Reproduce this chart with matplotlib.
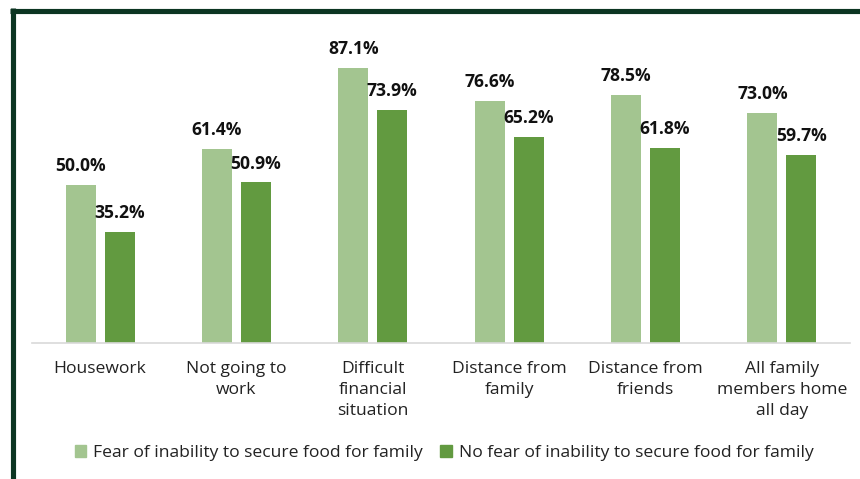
import matplotlib.pyplot as plt
from matplotlib.lines import Line2D
from matplotlib.patches import Patch
import numpy as np

plt.rcParams['font.family'] = ['Open Sans', 'DejaVu Sans']

categories = ['Housework', 'Not going to\nwork', 'Difficult\nfinancial\nsituation',
              'Distance from\nfamily', 'Distance from\nfriends', 'All family\nmembers home\nall day']
fear = [50.0, 61.4, 87.1, 76.6, 78.5, 73.0]
no_fear = [35.2, 50.9, 73.9, 65.2, 61.8, 59.7]
series_names = ['Fear of inability to secure food for family',
                'No fear of inability to secure food for family']

light = '#a3c590'
dark = '#629a40'
border = '#0c3522'

fig = plt.figure(figsize=(8.6, 4.79), dpi=100)
ax = fig.add_axes([32/860, 1-343/479, 818/860, 315.7/479])

x = np.arange(len(categories))
w = 0.22
off = 0.143
b1 = ax.bar(x - off, fear, w, color=light)
b2 = ax.bar(x + off, no_fear, w, color=dark)

for bars in (b1, b2):
    for b in bars:
        ax.annotate(f'{b.get_height():.1f}%', (b.get_x() + b.get_width()/2, b.get_height()),
                    xytext=(0, 7), textcoords='offset points', ha='center', va='bottom',
                    fontsize=12.6, fontweight='bold', color='#111111')

ax.set_xlim(-0.5, 5.5)
ax.set_ylim(0, 100)
ax.set_yticks([])
ax.set_xticks(x)
ax.set_xticklabels(categories, fontsize=12.6, color='#222222', linespacing=1.42)
ax.tick_params(axis='x', length=0, pad=13)
for s in ['top', 'right', 'left']:
    ax.spines[s].set_visible(False)
ax.spines['bottom'].set_color('#d9d9d9')
ax.spines['bottom'].set_linewidth(1.2)

handles = [Patch(color=light), Patch(color=dark)]
fig.legend(handles, series_names, loc='center', bbox_to_anchor=(444/860, 1-453/479),
           ncol=2, frameon=False, fontsize=12.6, handlelength=0.65, handleheight=0.65,
           handletextpad=0.4, columnspacing=1.0, labelcolor='#222222')

# frame lines on the left and top
fig.add_artist(Line2D([12.5/860, 12.5/860], [0, 1-8/479], color=border, lw=3.7,
                      transform=fig.transFigure, solid_capstyle='butt'))
fig.add_artist(Line2D([10/860, 1], [1-10.5/479, 1-10.5/479], color=border, lw=3.7,
                      transform=fig.transFigure, solid_capstyle='butt'))

fig.savefig('out.png', dpi=100)
